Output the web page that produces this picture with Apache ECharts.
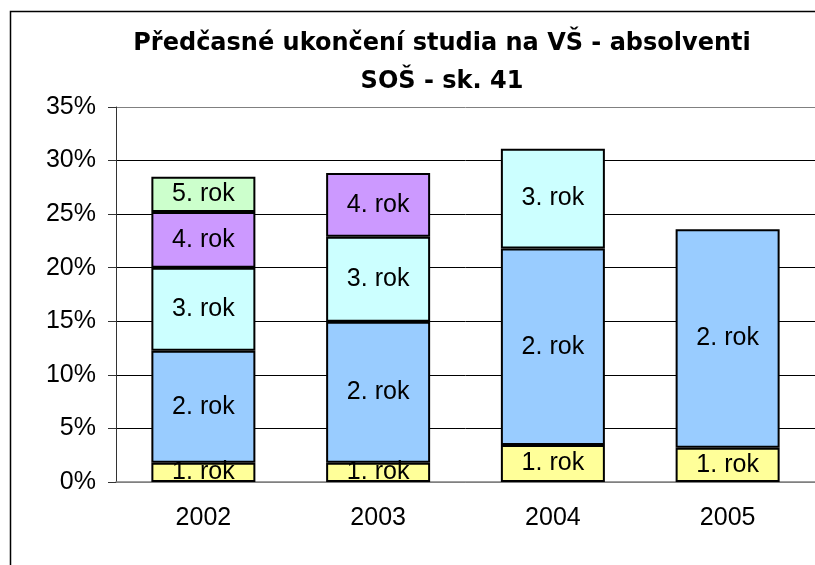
<!DOCTYPE html>
<html>
<head>
<meta charset="utf-8">
<script src="https://cdn.jsdelivr.net/npm/echarts@6/dist/echarts.min.js"></script>
<style>
  html, body { margin: 0; padding: 0; background: #fff; }
  #chart { width: 815px; height: 565px; }
</style>
</head>
<body>
<div id="chart"></div>
<script>
// years on x axis
const years = ['2002', '2003', '2004', '2005']

// share of early leavers per study year (%)
const rok1 = [1.8, 1.8, 3.45, 3.2]
const rok2 = [10.45, 13.15, 18.35, 20.4]
const rok3 = [7.75, 7.95, 9.3, null]
const rok4 = [5.2, 5.95, null, null]
const rok5 = [3.3, null, null, null]

const seriesNames = ['1. rok', '2. rok', '3. rok', '4. rok', '5. rok']
const seriesColors = ['#ffff99', '#99ccff', '#ccffff', '#cc99ff', '#ccffcc']

const font = '"Liberation Sans", Arial, sans-serif'

const chart = echarts.init(document.getElementById('chart'))

const makeSeries = (name, data, i) => ({
  name,
  type: 'bar',
  stack: 'total',
  data,
  barWidth: 104,
  itemStyle: {
    color: seriesColors[i],
    borderColor: '#000',
    borderWidth: 2,
  },
  label: {
    show: true,
    position: 'inside',
    formatter: '{a}',
    color: '#000',
    fontSize: 25,
    fontFamily: font,
  },
  emphasis: { disabled: true },
})

chart.setOption({
  animation: false,
  title: {
    text: 'Předčasné ukončení studia na VŠ - absolventi\nSOŠ - sk. 41',
    left: 437,
    top: 20,
    textAlign: 'center',
    textStyle: {
      fontSize: 24,
      fontWeight: 'bold',
      fontFamily: '"DejaVu Sans", sans-serif',
      color: '#000',
      lineHeight: 38,
    },
  },
  graphic: [
    {
      type: 'rect',
      shape: { x: 10.5, y: 11.5, width: 830, height: 600 },
      style: { fill: 'none', stroke: '#000', lineWidth: 1.5 },
      silent: true,
    },
  ],
  grid: {
    left: 116,
    top: 107,
    right: -9,
    bottom: 83,
  },
  xAxis: {
    type: 'category',
    data: years,
    axisLine: { lineStyle: { color: '#808080', width: 1.5 } },
    axisTick: { length: 7, lineStyle: { color: '#808080' } },
    axisLabel: {
      color: '#000',
      fontSize: 25,
      fontFamily: font,
      margin: 24,
    },
  },
  yAxis: {
    type: 'value',
    min: 0,
    max: 35,
    interval: 5,
    axisLine: { show: true, lineStyle: { color: '#333' } },
    axisTick: { show: true, length: 8, lineStyle: { color: '#333' } },
    axisLabel: {
      formatter: '{value}%',
      color: '#000',
      fontSize: 25,
      fontFamily: font,
      margin: 20,
    },
    splitLine: {
      show: true,
      lineStyle: {
        color: ['#808080', '#000', '#000', '#000', '#000', '#000', '#000', '#808080'],
        width: 1,
      },
    },
  },
  series: [
    makeSeries(seriesNames[0], rok1, 0),
    makeSeries(seriesNames[1], rok2, 1),
    makeSeries(seriesNames[2], rok3, 2),
    makeSeries(seriesNames[3], rok4, 3),
    makeSeries(seriesNames[4], rok5, 4),
  ],
})
</script>
</body>
</html>
